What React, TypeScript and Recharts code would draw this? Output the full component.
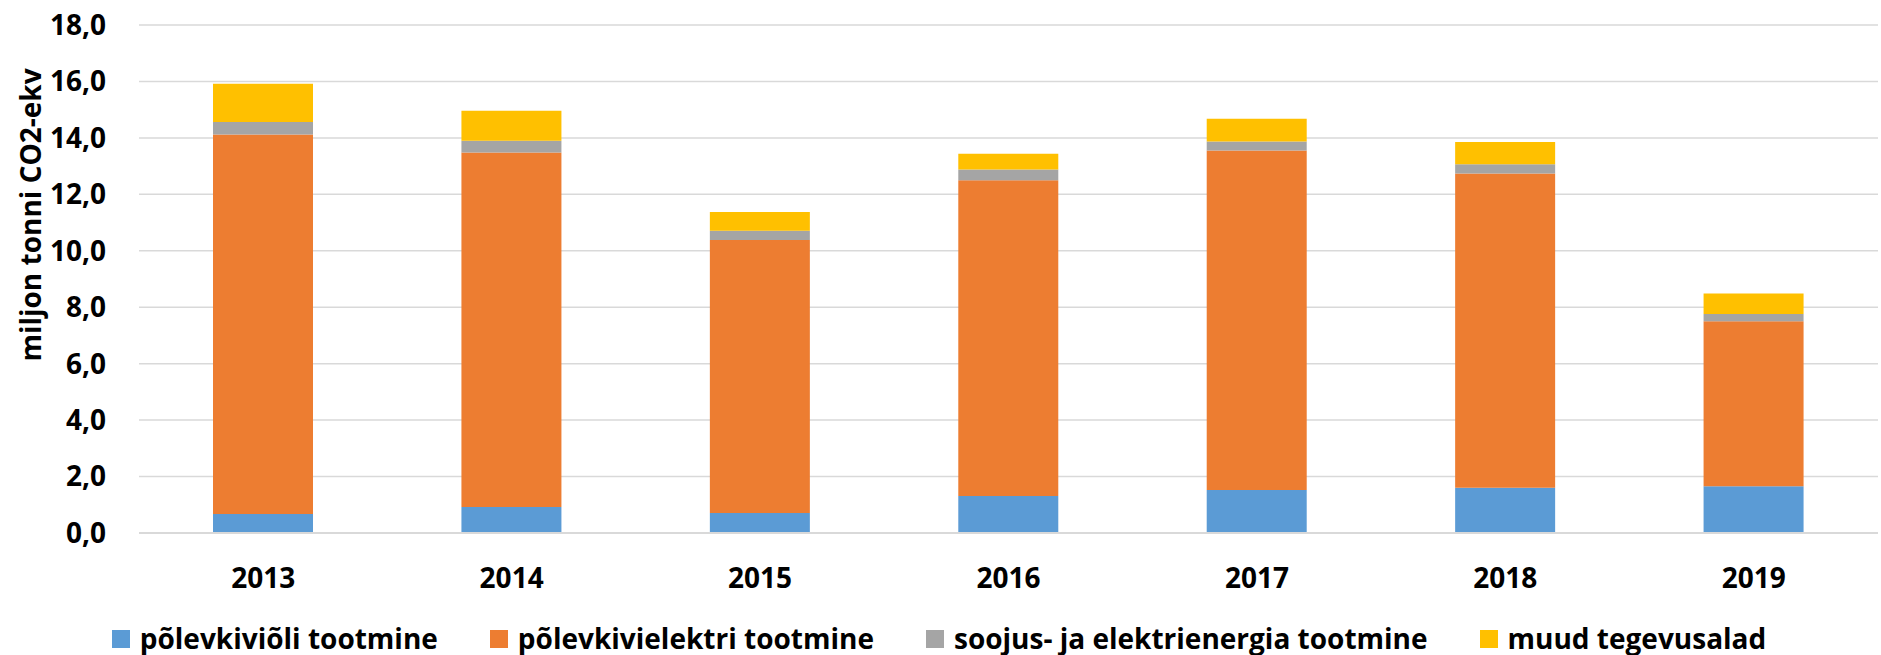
import React from 'react';
import { BarChart, Bar, XAxis, YAxis, CartesianGrid, Legend, Label } from 'recharts';

const years = ['2013', '2014', '2015', '2016', '2017', '2018', '2019'];
const oilShaleOil = [0.67, 0.92, 0.71, 1.31, 1.52, 1.6, 1.66];
const oilShaleElectricity = [13.45, 12.56, 9.67, 11.19, 12.03, 11.14, 5.84];
const heatAndPower = [0.44, 0.42, 0.33, 0.38, 0.32, 0.33, 0.26];
const otherSectors = [1.36, 1.06, 0.66, 0.56, 0.81, 0.78, 0.73];

const seriesNames = [
  'põlevkiviõli tootmine',
  'põlevkivielektri tootmine',
  'soojus- ja elektrienergia tootmine',
  'muud tegevusalad',
];
const seriesKeys = ['oil', 'elec', 'heat', 'other'];
const seriesColors = ['#5B9BD5', '#ED7D31', '#A5A5A5', '#FFC000'];
const yTicks = [0, 2, 4, 6, 8, 10, 12, 14, 16, 18];
const yTitle = 'miljon tonni CO2-ekv';

const data = years.map((year, i) => ({
  year,
  oil: oilShaleOil[i],
  elec: oilShaleElectricity[i],
  heat: heatAndPower[i],
  other: otherSectors[i],
}));

const FONT = "'Open Sans', sans-serif";

const XTick = (props: any) => {
  const { x, y, payload } = props;
  return (
    <text
      x={x}
      y={y}
      dy={44}
      textAnchor="middle"
      dominantBaseline="central"
      fontFamily={FONT}
      fontSize={28}
      fontWeight={700}
      fill="#000"
    >
      {payload.value}
    </text>
  );
};

const LegendContent = () => (
  <div
    style={{
      display: 'flex',
      justifyContent: 'center',
      alignItems: 'center',
      height: 50,
      paddingTop: 17,
      boxSizing: 'border-box',
      fontFamily: FONT,
      fontSize: 28,
      fontWeight: 700,
      color: '#000',
      whiteSpace: 'nowrap',
    }}
  >
    {seriesNames.map((name, i) => (
      <div
        key={name}
        style={{ display: 'flex', alignItems: 'center', marginRight: i < seriesNames.length - 1 ? 52 : 0 }}
      >
        <div style={{ width: 18, height: 18, background: seriesColors[i], marginRight: 10 }} />
        <span style={{ lineHeight: '33px' }}>{name}</span>
      </div>
    ))}
  </div>
);

const YTitle = () => (
  <text
    x={30}
    y={215}
    transform="rotate(-90, 30, 215)"
    textAnchor="middle"
    dominantBaseline="central"
    fontFamily={FONT}
    fontSize={28}
    fontWeight={700}
    fill="#000"
  >
    {yTitle}
  </text>
);

export default function App() {
  return (
    <div style={{ width: 1881, height: 655, background: '#fff', position: 'absolute', left: 0, top: 0 }}>
      <style>{'body{margin:0;}'}</style>
      <BarChart width={1881} height={655} data={data} margin={{ top: 25, right: 3, left: 0, bottom: 0 }}>
        <CartesianGrid vertical={false} stroke="#d9d9d9" strokeWidth={1.5} />
        <XAxis
          dataKey="year"
          height={72}
          axisLine={{ stroke: '#d9d9d9', strokeWidth: 2 }}
          tickLine={false}
          tickSize={0}
          tickMargin={0}
          tick={<XTick />}
          interval={0}
        />
        <YAxis
          width={139}
          domain={[0, 18]}
          ticks={yTicks}
          interval={0}
          axisLine={false}
          tickLine={false}
          tickSize={0}
          tickMargin={33}
          tick={{ fontSize: 28, fontWeight: 700, fill: '#000', fontFamily: FONT }}
          tickFormatter={(v: number) => v.toFixed(1).replace('.', ',')}
        >
          <Label content={<YTitle />} />
        </YAxis>
        <Legend verticalAlign="bottom" height={50} content={<LegendContent />} />
        {seriesKeys.map((k, i) => (
          <Bar
            key={k}
            dataKey={k}
            name={seriesNames[i]}
            stackId="a"
            fill={seriesColors[i]}
            barSize={100}
            isAnimationActive={false}
          />
        ))}
      </BarChart>
    </div>
  );
}
